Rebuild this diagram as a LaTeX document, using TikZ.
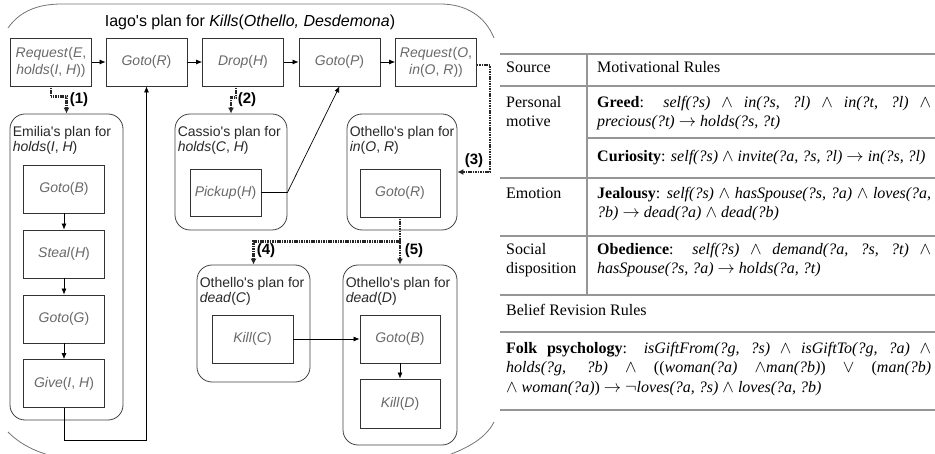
\documentclass[tikz,border=0pt]{standalone}
\usepackage{fontspec}
\setmainfont{Liberation Serif}
\newfontfamily\planfont{Liberation Sans}
\usetikzlibrary{arrows.meta}

\definecolor{acttext}{RGB}{105,105,105}
\definecolor{plantext}{RGB}{40,40,40}
\definecolor{tabrule}{RGB}{150,150,150}

\newcommand{\fullline}[2][334pt]{\makebox[#1][s]{#2}}

\tikzset{
  act/.style={draw=black!80,line width=0.8pt,inner sep=0pt,minimum width=81pt,
    minimum height=48pt,align=center,text=acttext,
    font=\planfont\fontsize{14}{17}\selectfont},
  plan/.style={draw=black!75,line width=0.8pt,rounded corners=15pt,inner sep=0pt},
  planname/.style={anchor=north west,inner sep=0pt,align=left,text=plantext,
    font=\planfont\fontsize{14}{15}\selectfont},
  seq/.style={-{Latex[length=6pt,width=5pt]},line width=0.7pt},
  sub/.style={-{Latex[length=6pt,width=6pt]},line width=2.4pt,
    dash pattern=on 1.1pt off 0.6pt,black!85},
  num/.style={inner sep=0pt,font=\planfont\bfseries\fontsize{15}{15}\selectfont},
  outline/.style={black!55,line width=0.8pt},
  rule/.style={line width=2pt,tabrule},
  cell/.style={anchor=base west,inner sep=0pt,font=\fontsize{16}{19}\selectfont}
}

\begin{document}
\begin{tikzpicture}[x=1pt,y=-1pt]
\useasboundingbox (0,0) rectangle (935,454);

% outer plan of Iago
\draw[outline] (8,28) .. controls (20,11) and (38,4) .. (62,4) -- (440,4)
    .. controls (466,4) and (485,16) .. (494,38);
\draw[outline] (8,432) .. controls (20,444) and (34,451) .. (52,456);
\draw[outline] (446,456) .. controls (468,448) and (486,438) .. (494,422);
\node[font=\planfont\fontsize{16}{16}\selectfont] (title) at (250,22)
    {Iago's plan for \textit{Kills}(\textit{Othello, Desdemona})};

\node[act] (reqE) at (51,62) {\textit{Request}(\textit{E},\\\textit{holds}(\textit{I}, \textit{H}))};
\node[act] (gotoR) at (146.5,62) {\textit{Goto}(\textit{R})};
\node[act] (dropH) at (243,62) {\textit{Drop}(\textit{H})};
\node[act] (gotoP) at (339.5,62) {\textit{Goto}(\textit{P})};
\node[act] (reqO) at (436,62) {\textit{Request}(\textit{O},\\\textit{in}(\textit{O}, \textit{R}))};
\draw[seq] (reqE.east) -- (gotoR.west);
\draw[seq] (gotoR.east) -- (dropH.west);
\draw[seq] (dropH.east) -- (gotoP.west);
\draw[seq] (gotoP.east) -- (reqO.west);

% Emilia
\node[plan,minimum width=113pt,minimum height=306pt] (emilia) at (66.5,267) {};
\node[planname] (emilianame) at ([shift={(3,13)}]emilia.north west)
    {Emilia's plan for\\\textit{holds}(\textit{I}, \textit{H})};
\foreach \nm/\yy/\txt in {egotoB/189/{\textit{Goto}(\textit{B})},
    estealH/254/{\textit{Steal}(\textit{H})},
    egotoG/319/{\textit{Goto}(\textit{G})},
    egiveIH/383.5/{\textit{Give}(\textit{I}, \textit{H})}}
  \node[act] (\nm) at (64,\yy) {\txt};
\draw[seq] (egotoB.south) -- (estealH.north);
\draw[seq] (estealH.south) -- (egotoG.north);
\draw[seq] (egotoG.south) -- (egiveIH.north);
\draw[seq] (egiveIH.south) -- ++(0,32) -| (gotoR.south);

% Cassio
\node[plan,minimum width=112pt,minimum height=116pt] (cassio) at (231,172) {};
\node[planname] (cassioname) at ([shift={(3,13)}]cassio.north west)
    {Cassio's plan for\\\textit{holds}(\textit{C}, \textit{H})};
\node[act,minimum width=71pt,minimum height=47pt] (pickupH) at (225.5,192.5)
    {\textit{Pickup}(\textit{H})};
\coordinate (pbend) at (cassio.east |- pickupH.east);
\draw[seq] (pickupH.east) -- (pbend) -- (gotoP.south);

% Othello
\node[plan,minimum width=110pt,minimum height=116pt] (othIn) at (402,172) {};
\node[planname] (othInname) at ([shift={(3,13)}]othIn.north west)
    {Othello's plan for\\\textit{in}(\textit{O}, \textit{R})};
\node[act,minimum width=80pt] (ogotoR) at (400,193) {\textit{Goto}(\textit{R})};

\node[plan,minimum width=113pt,minimum height=117pt] (othC) at (253.5,323.5) {};
\node[planname] (othCname) at ([shift={(3,13)}]othC.north west)
    {Othello's plan for\\\textit{dead}(\textit{C})};
\node[act] (killC) at (252.5,339) {\textit{Kill}(\textit{C})};

\node[plan,minimum width=114pt,minimum height=180pt] (othD) at (400,355) {};
\node[planname] (othDname) at ([shift={(3,13)}]othD.north west)
    {Othello's plan for\\\textit{dead}(\textit{D})};
\node[act,minimum width=80pt] (dgotoB) at (400,339) {\textit{Goto}(\textit{B})};
\node[act,minimum width=80pt,minimum height=49pt] (killD) at (400,403.5) {\textit{Kill}(\textit{D})};
\draw[seq] (killC.east) -- (dgotoB.west);
\draw[seq] (dgotoB.south) -- (killD.north);

% subgoals
\draw[sub] (reqE.south) -- ++(0,10) -| (emilia.north);
\node[num] (n1) at (79,100) {(1)};
\draw[sub] ([xshift=-7pt]dropH.south) -- ++(0,11) -| (cassio.north);
\node[num] (n2) at (247,100) {(2)};
\draw[sub] ([yshift=-3pt]reqO.east) -- ++(13,0) |- (othIn.east);
\node[num] (n3) at (474,161) {(3)};
\coordinate (split) at ([shift={(0,24)}]ogotoR.south);
\draw[sub] (ogotoR.south) -- (split) -| (othC.north);
\draw[sub] (split) -- (othD.north);
\node[num] (n4) at (266,251) {(4)};
\node[num] (n5) at (414,251) {(5)};

% rule table
\foreach \yy in {54,86,178,236,295,410}
  \draw[rule] (500,\yy) -- (935,\yy);
\draw[rule] (587,138) -- (935,138);
\draw[rule,line width=2.6pt] (500,332) -- (935,332);
\draw[tabrule,line width=1.2pt] (587,54) -- (587,295);

\node[cell] (src) at (506,73) {Source};
\node[cell] (motiv) at (597,73) {Motivational Rules};
\node[cell] (pers) at (506,108) {Personal};
\node[cell] (pers2) at (506,127) {motive};
\node[cell] (greed) at (597,108) {\fullline{\textbf{Greed}: \textit{self(?s)} $\wedge$
    \textit{in(?s, ?l)} $\wedge$ \textit{in(?t, ?l)} $\wedge$}};
\node[cell] (greed2) at (597,127) {\textit{precious(?t)} $\rightarrow$ \textit{holds(?s, ?t)}};
\node[cell] (curio) at (597,162) {\textbf{Curiosity}: \textit{self(?s)} $\wedge$
    \textit{invite(?a, ?s, ?l)} $\rightarrow$ \textit{in(?s, ?l)}};
\node[cell] (emo) at (506,199) {Emotion};
\node[cell] (jeal) at (597,199) {\fullline{\textbf{Jealousy}: \textit{self(?s)} $\wedge$
    \textit{hasSpouse(?s, ?a)} $\wedge$ \textit{loves(?a,}}};
\node[cell] (jeal2) at (597,218) {\textit{?b)} $\rightarrow$ \textit{dead(?a)} $\wedge$ \textit{dead(?b)}};
\node[cell] (soc) at (506,255) {Social};
\node[cell] (soc2) at (506,274) {disposition};
\node[cell] (obed) at (597,255) {\fullline{\textbf{Obedience}: \textit{self(?s)} $\wedge$
    \textit{demand(?a, ?s, ?t)} $\wedge$}};
\node[cell] (obed2) at (597,274) {\textit{hasSpouse(?s, ?a)} $\rightarrow$ \textit{holds(?a, ?t)}};
\node[cell] (belief) at (506,316) {Belief Revision Rules};
\node[cell] (folk) at (506,354) {\fullline[425pt]{\textbf{Folk psychology}:
    \textit{isGiftFrom(?g, ?s)} $\wedge$ \textit{isGiftTo(?g, ?a)} $\wedge$}};
\node[cell] (folk2) at (506,373) {\fullline[425pt]{\textit{holds(?g, ?b)} $\wedge$
    ((\textit{woman(?a)} $\wedge$\textit{man(?b)}) $\vee$ (\textit{man(?b)}}};
\node[cell] (folk3) at (506,392) {$\wedge$ \textit{woman(?a)}) $\rightarrow$
    $\neg$\textit{loves(?a, ?s)} $\wedge$ \textit{loves(?a, ?b)}};
\end{tikzpicture}
\end{document}
